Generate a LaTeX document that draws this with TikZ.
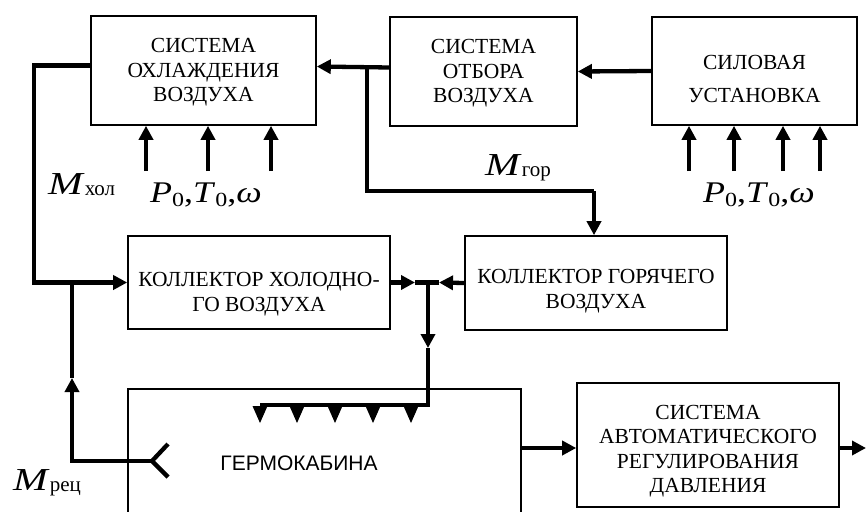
\documentclass[tikz,border=0pt]{standalone}
\usepackage{fontspec}
\setmainfont{Liberation Serif}
\newfontfamily\arialf{Liberation Sans}
\usetikzlibrary{arrows.meta,calc}
\newcommand\subz[1]{\raisebox{-4pt}{\fontsize{20}{20}\selectfont #1}}
\newcommand\PTw{\scalebox{1.2}[1]{\textit{P}\subz{0},\textit{T}\subz{0},\textit{ω}}}
\newcommand\Mlab[1]{\scalebox{1.3}[1]{\textit{M}}\raisebox{-1pt}{\fontsize{21}{21}\selectfont #1}}
\begin{document}
\begin{tikzpicture}[x=1pt,y=-1pt,
 box/.style={draw,line width=1.6pt,inner sep=0pt},
 bt/.style={align=center,inner sep=0pt,font=\fontsize{21.5}{24.5}\selectfont},
 line/.style={line width=4.3pt},
 flow/.style={line width=4.3pt,-{Triangle[length=14pt,width=14pt]}},
 lab/.style={anchor=base west,inner sep=0pt,font=\fontsize{30}{30}\selectfont}]
\clip (0,0) rectangle (866,511);
\fill[white] (0,0) rectangle (866,511);

% boxes
\node[box,minimum width=225pt,minimum height=109pt,
  label={[bt,yshift=-2pt]center:СИСТЕМА\\ОХЛАЖДЕНИЯ\\ВОЗДУХА}] (b1) at (203.5,70.5) {};
\node[box,minimum width=187pt,minimum height=109pt,
  label={[bt,yshift=-2pt]center:СИСТЕМА\\ОТБОРА\\ВОЗДУХА}] (b2) at (483.5,71.5) {};
\node[box,minimum width=205pt,minimum height=108pt,
  label={[bt,yshift=-8pt,font=\fontsize{21.5}{33}\selectfont]center:СИЛОВАЯ\\УСТАНОВКА}] (b3) at (754.5,71) {};
\node[box,minimum width=262pt,minimum height=93pt,
  label={[bt,yshift=-12pt,font=\fontsize{21.5}{25}\selectfont]center:КОЛЛЕКТОР ХОЛОДНО-\\ГО ВОЗДУХА}] (b4) at (259,282.5) {};
\node[box,minimum width=262pt,minimum height=94pt,
  label={[bt,yshift=-8pt,font=\fontsize{21.5}{25}\selectfont]center:КОЛЛЕКТОР ГОРЯЧЕГО\\ВОЗДУХА}] (b5) at (596,283) {};
\node[draw,line width=1.2pt,inner sep=0pt,minimum width=393pt,minimum height=171pt] (b6) at (324.5,474.5) {};
\node[inner sep=0pt,font=\arialf\fontsize{21}{21}\selectfont] (b6t) at (299,463.5) {ГЕРМОКАБИНА};
\node[box,minimum width=262pt,minimum height=124pt,
  label={[bt,yshift=-6pt]center:СИСТЕМА\\АВТОМАТИЧЕСКОГО\\РЕГУЛИРОВАНИЯ\\ДАВЛЕНИЯ}] (b7) at (708,445) {};

% labels
\node[lab] (l1) at (150,202) {\PTw};
\node[lab] (l2) at (703,202) {\PTw};
\node[lab,font=\fontsize{32}{32}\selectfont] (mx) at (48,194) {\Mlab{хол}};
\node[lab,font=\fontsize{32}{32}\selectfont] (mg) at (485,175) {\Mlab{гор}};
\node[lab,font=\fontsize{32}{32}\selectfont] (mr) at (13,490) {\Mlab{рец}};

% coordinates
\coordinate (br) at (367,67);
\coordinate (hg) at (594,191);
\coordinate (cl) at (34,282.5);
\coordinate (jc) at (72,282.5);
\coordinate (ra) at (72,378);
\coordinate (ry) at (152,461);
\coordinate (ya) at (168,444);
\coordinate (yb) at (168,477);
\coordinate (t4) at (415,282.5);
\coordinate (jh) at (428,282.5);
\coordinate (t5) at (439,282.5);
\coordinate (tv) at (428,348);
\coordinate (cv) at (428,405);
\coordinate (ne) at (260,405);
\coordinate (out) at (866,448);

% top flows
\draw[flow] (b3.west) -- (b2.east);
\draw[flow] ([yshift=4pt]b2.west) -- ([yshift=4pt]b1.east);
\draw[line] (br) |- (hg);
\draw[flow] (hg) -- (hg |- b5.north);

% inputs
\foreach \x in {146,208,271}{
  \coordinate (in) at (\x,171);
  \draw[flow] (in) -- (in |- b1.south);
}
\foreach \x in {689,734,783,820}{
  \coordinate (in) at (\x,171);
  \draw[flow] (in) -- (in |- b3.south);
}

% cold line
\draw[flow] ([yshift=5pt]b1.west) -| (cl) -- (b4.west);
% recirculation
\draw[flow] (ry) -| (ra);
\draw[line] (ra) -- (jc);
\draw[line] (ya) -- (ry) -- (yb);

% collectors to junction
\draw[flow] (b4.east) -- (t4);
\draw[line] (t4) -- (jh);
\draw[flow] (b5.west) -- (t5);
\draw[line] (t5) -- (jh);
\draw[flow] (jh) -- (tv);
\draw[line] (tv) -- (cv) -- (ne);

% nozzles
\foreach \x in {260,297,335,373,411}{
  \fill (\x-7.5,406) -- (\x+7.5,406) -- (\x,423) -- cycle;
}

% pressure regulation
\draw[flow] ([yshift=-3pt]b7.west -| b6.east) -- ([yshift=-3pt]b7.west);
\draw[flow] ([yshift=-3pt]b7.east) -- (out);
\end{tikzpicture}
\end{document}
